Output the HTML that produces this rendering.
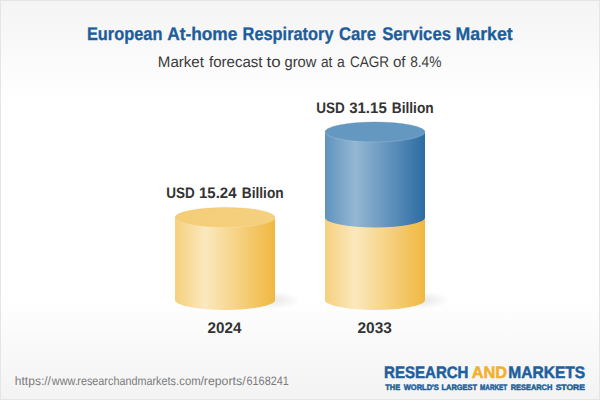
<!DOCTYPE html>
<html>
<head>
<meta charset="utf-8">
<title>European At-home Respiratory Care Services Market</title>
<style>
  html, body { margin: 0; padding: 0; background: #ffffff; }
  body { width: 600px; height: 400px; overflow: hidden; font-family: "Liberation Sans", sans-serif; }
  svg { display: block; }
  text { font-family: "Liberation Sans", sans-serif; }
</style>
</head>
<body>
<svg width="600" height="400" viewBox="0 0 600 400">
  <defs>
    <linearGradient id="bg" x1="0" y1="0" x2="0" y2="1">
      <stop offset="0" stop-color="#f4f4f4"/>
      <stop offset="0.26" stop-color="#ffffff"/>
      <stop offset="0.74" stop-color="#ffffff"/>
      <stop offset="1" stop-color="#f3f3f3"/>
    </linearGradient>
    <linearGradient id="ybody" x1="0" y1="0" x2="1" y2="0">
      <stop offset="0" stop-color="#f6d07d"/>
      <stop offset="0.30" stop-color="#fbe8bd"/>
      <stop offset="1" stop-color="#f0b840"/>
    </linearGradient>
    <linearGradient id="ytop" x1="0" y1="0" x2="1" y2="0">
      <stop offset="0" stop-color="#f4cd78"/>
      <stop offset="1" stop-color="#f5d07f"/>
    </linearGradient>
    <linearGradient id="bbody" x1="0" y1="0" x2="1" y2="0">
      <stop offset="0" stop-color="#6093bd"/>
      <stop offset="0.30" stop-color="#94b7d3"/>
      <stop offset="1" stop-color="#2c6ca3"/>
    </linearGradient>
    <radialGradient id="shadow" cx="0.5" cy="0.5" r="0.5">
      <stop offset="0" stop-color="#000000" stop-opacity="0.10"/>
      <stop offset="1" stop-color="#000000" stop-opacity="0"/>
    </radialGradient>
  </defs>

  <!-- background + border -->
  <rect x="0" y="0" width="600" height="400" fill="url(#bg)"/>
  <rect x="0.5" y="0.5" width="599" height="399" fill="none" stroke="#e5e5e5" stroke-width="1"/>

  <!-- shadows -->
  <ellipse cx="270" cy="300" rx="30" ry="9" fill="url(#shadow)"/>
  <ellipse cx="420" cy="300" rx="30" ry="9" fill="url(#shadow)"/>

  <!-- left cylinder -->
  <path d="M175 217.5 L175 300 A50 10 0 0 0 275 300 L275 217.5 Z" fill="url(#ybody)"/>
  <ellipse cx="225" cy="217.5" rx="50" ry="10" fill="url(#ytop)"/>
  <path d="M175 217.5 A50 10 0 0 0 275 217.5" fill="none" stroke="#ffffff" stroke-opacity="0.2" stroke-width="0.8"/>
  <path d="M175 217.5 A50 10 0 0 1 275 217.5" fill="none" stroke="#e9b444" stroke-opacity="0.35" stroke-width="0.8"/>

  <!-- right cylinder: yellow bottom -->
  <path d="M325 217.5 L325 300 A50 10 0 0 0 425 300 L425 217.5 Z" fill="url(#ybody)"/>
  <!-- right cylinder: blue top -->
  <path d="M325 132 L325 217.5 A50 10 0 0 0 425 217.5 L425 132 Z" fill="url(#bbody)"/>
  <ellipse cx="375" cy="132" rx="50" ry="10" fill="#6598c0"/>
  <path d="M325 132 A50 10 0 0 0 425 132" fill="none" stroke="#ffffff" stroke-opacity="0.2" stroke-width="0.8"/>
  <path d="M325 132 A50 10 0 0 1 425 132" fill="none" stroke="#3f78aa" stroke-opacity="0.35" stroke-width="0.8"/>

  <!-- text -->
  <text text-rendering="geometricPrecision" y="39.7" font-size="18.35" font-weight="bold" stroke-width="0.3" stroke-linejoin="round" fill="#1c5d9c"><tspan x="86.98" textLength="75.41" lengthAdjust="spacingAndGlyphs" stroke="#1c5d9c">European</tspan> <tspan x="167.13" textLength="70.30" lengthAdjust="spacingAndGlyphs" stroke="#1c5d9c">At-home</tspan> <tspan x="242.58" textLength="90.92" lengthAdjust="spacingAndGlyphs" stroke="#1c5d9c">Respiratory</tspan> <tspan x="338.88" textLength="37.14" lengthAdjust="spacingAndGlyphs" stroke="#1c5d9c">Care</tspan> <tspan x="382.14" textLength="68.94" lengthAdjust="spacingAndGlyphs" stroke="#1c5d9c">Services</tspan> <tspan x="455.49" textLength="57.20" lengthAdjust="spacingAndGlyphs" stroke="#1c5d9c">Market</tspan></text>
  <text text-rendering="geometricPrecision" y="66.8" font-size="15.36" fill="#3a3a3a"><tspan x="157.82" textLength="46.13" lengthAdjust="spacingAndGlyphs">Market</tspan> <tspan x="209.00" textLength="53.45" lengthAdjust="spacingAndGlyphs">forecast</tspan> <tspan x="266.60" textLength="14.08" lengthAdjust="spacingAndGlyphs">to</tspan> <tspan x="284.54" textLength="31.88" lengthAdjust="spacingAndGlyphs">grow</tspan> <tspan x="320.97" textLength="11.38" lengthAdjust="spacingAndGlyphs">at</tspan> <tspan x="336.96" textLength="7.75" lengthAdjust="spacingAndGlyphs">a</tspan> <tspan x="349.97" textLength="39.10" lengthAdjust="spacingAndGlyphs">CAGR</tspan> <tspan x="392.93" textLength="12.62" lengthAdjust="spacingAndGlyphs">of</tspan> <tspan x="410.17" textLength="31.24" lengthAdjust="spacingAndGlyphs">8.4%</tspan></text>
  <text text-rendering="geometricPrecision" y="197.5" font-size="15.22" font-weight="bold" fill="#333333"><tspan x="166.37" textLength="28.50" lengthAdjust="spacingAndGlyphs">USD</tspan> <tspan x="199.06" textLength="37.44" lengthAdjust="spacingAndGlyphs">15.24</tspan> <tspan x="241.74" textLength="41.92" lengthAdjust="spacingAndGlyphs">Billion</tspan></text>
  <text text-rendering="geometricPrecision" y="112.6" font-size="15.22" font-weight="bold" fill="#333333"><tspan x="316.37" textLength="28.50" lengthAdjust="spacingAndGlyphs">USD</tspan> <tspan x="349.17" textLength="37.61" lengthAdjust="spacingAndGlyphs">31.15</tspan> <tspan x="391.74" textLength="41.92" lengthAdjust="spacingAndGlyphs">Billion</tspan></text>
  <text text-rendering="geometricPrecision" y="332.6" font-size="15.36" font-weight="bold" fill="#333333"><tspan x="207.52" textLength="33.88" lengthAdjust="spacingAndGlyphs">2024</tspan></text>
  <text text-rendering="geometricPrecision" y="332.6" font-size="15.36" font-weight="bold" fill="#333333"><tspan x="357.52" textLength="34.37" lengthAdjust="spacingAndGlyphs">2033</tspan></text>
  <text text-rendering="geometricPrecision" y="385.0" font-size="12.26" fill="#7b7b7b"><tspan x="14.85" textLength="36.11" lengthAdjust="spacingAndGlyphs">https://</tspan><tspan x="51.77" textLength="26.22" lengthAdjust="spacingAndGlyphs">www.</tspan><tspan x="77.32" textLength="98.61" lengthAdjust="spacingAndGlyphs">researchandmarkets</tspan><tspan x="176.12" textLength="24.47" lengthAdjust="spacingAndGlyphs">.com</tspan><tspan x="200.40" textLength="45.16" lengthAdjust="spacingAndGlyphs">/reports/</tspan><tspan x="246.49" textLength="42.35" lengthAdjust="spacingAndGlyphs">6168241</tspan></text>
  <text text-rendering="geometricPrecision" y="377.5" font-size="16.64" font-weight="bold" stroke-width="0.5" stroke-linejoin="round" fill="#1f5f9c"><tspan x="384.06" textLength="84.43" lengthAdjust="spacingAndGlyphs" fill="#1f5f9c" stroke="#1f5f9c">RESEARCH</tspan> <tspan x="471.75" textLength="35.32" lengthAdjust="spacingAndGlyphs" fill="#f2b02c" stroke="#f2b02c">AND</tspan> <tspan x="508.33" textLength="76.88" lengthAdjust="spacingAndGlyphs" fill="#1f5f9c" stroke="#1f5f9c">MARKETS</tspan></text>
  <text text-rendering="geometricPrecision" y="389.8" font-size="7.96" font-weight="bold" stroke-width="0.5" stroke-linejoin="round" fill="#1f5f9c"><tspan x="385.30" textLength="14.90" lengthAdjust="spacingAndGlyphs" stroke="#1f5f9c">THE</tspan> <tspan x="403.70" textLength="35.20" lengthAdjust="spacingAndGlyphs" stroke="#1f5f9c">WORLD'S</tspan> <tspan x="441.54" textLength="35.47" lengthAdjust="spacingAndGlyphs" stroke="#1f5f9c">LARGEST</tspan> <tspan x="480.10" textLength="27.11" lengthAdjust="spacingAndGlyphs" stroke="#1f5f9c">MARKET</tspan> <tspan x="510.74" textLength="41.55" lengthAdjust="spacingAndGlyphs" stroke="#1f5f9c">RESEARCH</tspan> <tspan x="555.67" textLength="29.36" lengthAdjust="spacingAndGlyphs" stroke="#1f5f9c">STORE</tspan></text>

</svg>
</body>
</html>
